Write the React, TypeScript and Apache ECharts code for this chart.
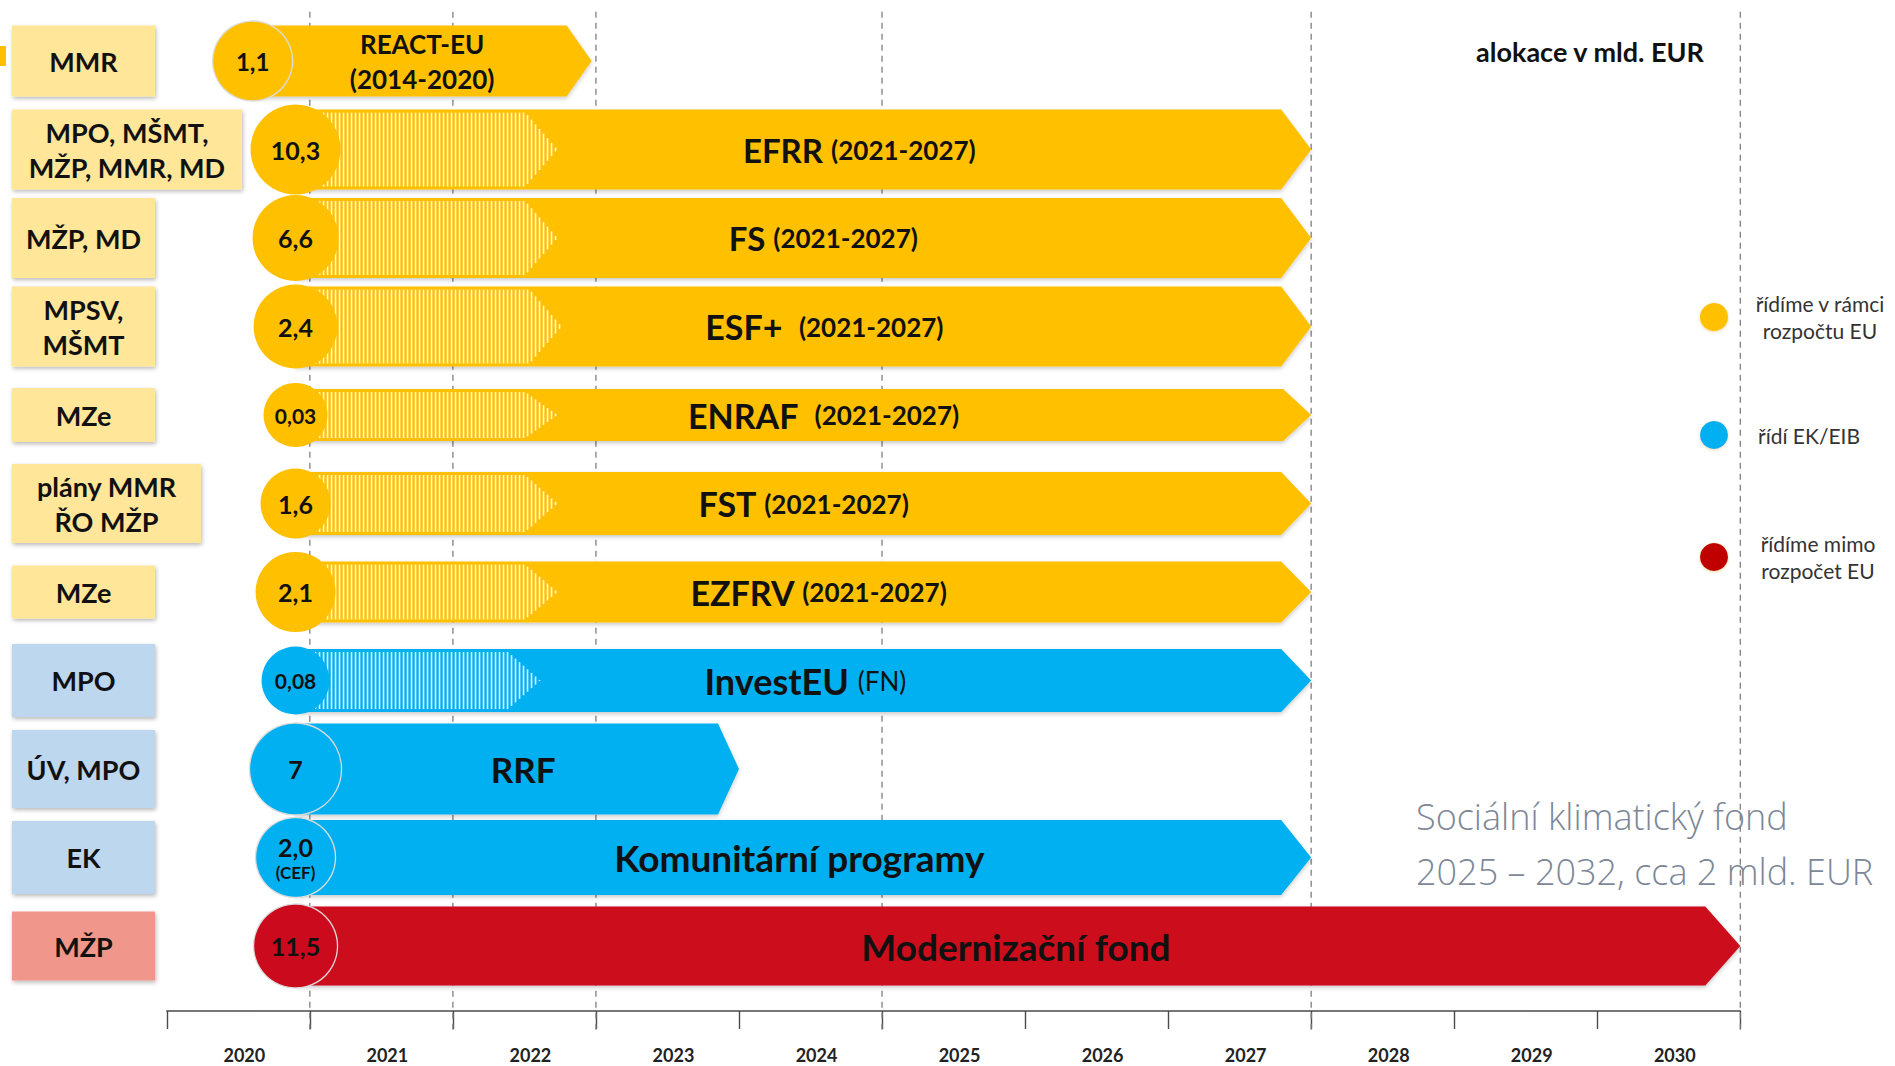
import React, { useEffect, useRef } from "react";
import * as echarts from "echarts";

// ---------- data ----------
const years = ["2020", "2021", "2022", "2023", "2024", "2025", "2026", "2027", "2028", "2029", "2030"];
const agencies = [
  "MMR",
  "MPO, MŠMT,\nMŽP, MMR, MD",
  "MŽP, MD",
  "MPSV,\nMŠMT",
  "MZe",
  "plány MMR\nŘO MŽP",
  "MZe",
  "MPO",
  "ÚV, MPO",
  "EK",
  "MŽP",
];
const programmes = [
  "REACT-EU", "EFRR", "FS", "ESF+", "ENRAF", "FST", "EZFRV", "InvestEU", "RRF",
  "Komunitární programy", "Modernizační fond",
];
const periods = [
  "(2014-2020)", "(2021-2027)", "(2021-2027)", "(2021-2027)", "(2021-2027)", "(2021-2027)",
  "(2021-2027)", "(FN)", "", "", "",
];
const allocations = ["1,1", "10,3", "6,6", "2,4", "0,03", "1,6", "2,1", "0,08", "7", "2,0", "11,5"];
const allocationNotes = ["", "", "", "", "", "", "", "", "", "(CEF)", ""];
const management = ["eu", "eu", "eu", "eu", "eu", "eu", "eu", "ek", "ek", "ek", "out"];
const startYear = [2020.6, 2020.9, 2020.9, 2020.9, 2020.9, 2020.9, 2020.9, 2020.9, 2020.9, 2020.9, 2020.9];
const endYear = [2022.97, 2028, 2028, 2028, 2028, 2028, 2028, 2028, 2024, 2028, 2031];
const phaseInEnd = [null, 2022.73, 2022.73, 2022.76, 2022.73, 2022.73, 2022.73, 2022.61, null, null, null];
const milestoneYears = [2021, 2022, 2023, 2025, 2028, 2031];
const legendKeys = ["eu", "ek", "out"];
const legendLabels = ["řídíme v rámci\nrozpočtu EU", "řídí EK/EIB", "řídíme mimo\nrozpočet EU"];
const unitNote = "alokace v mld. EUR";
const sideNote = "Sociální klimatický fond\n2025 – 2032, cca 2 mld. EUR";

// ---------- styles / layout ----------
const FONT = 'Lato, "Noto Sans", sans-serif';
const FILL: Record<string, string> = { eu: "#FFC000", ek: "#00B0F0", out: "#CC0A1E" };
const LEGEND_FILL: Record<string, string> = { eu: "#FFC000", ek: "#00B0F0", out: "#C00000" };
const BOX_FILL: Record<string, string> = { eu: "#FFE699", ek: "#BDD7EE", out: "#F0968A" };
const ROW_H = [71, 80, 80, 80, 52, 63, 61, 63, 91, 75, 79];
const CIRCLE_R = [40, 45, 43, 42, 32, 35, 40, 34, 46, 40, 42];
const CIRCLE_FONT = [24, 25, 25, 25, 21, 25, 25, 21, 25, 25, 25];
const NAME_FONT = [26, 33, 33, 34, 34, 34, 34, 36, 35, 37, 37];
const TIP_DEPTH = [25, 30, 30, 30, 28, 30, 30, 30, 21, 30, 35];
const BOX_W = [143, 230, 143, 143, 143, 189, 143, 143, 143, 143, 143];
const BOX_H = [71, 80, 80, 80, 54, 79, 53, 73, 78, 73, 69];
const LABEL_SHIFT = [0, 56, 20, 21, 20, 0, 15, 2, 6, -4, -2];
const LEGEND_Y = [317, 435, 557];
const LEGEND_TX = [1820, 1809, 1818];

export default function App() {
  const ref = useRef<HTMLDivElement>(null);

  useEffect(() => {
    if (!ref.current) return;
    const chart = echarts.init(ref.current, null, { renderer: "svg" });

    const rowData = programmes.map((_, i) => [startYear[i], i]);

    const renderRow = (params: any, api: any) => {
      const i = params.dataIndex;
      const key = management[i];
      const color = FILL[key];
      const p0 = api.coord([startYear[i], i]);
      const p1 = api.coord([endYear[i], i]);
      const x0 = p0[0];
      const yc = p0[1];
      const x1 = p1[0];
      const h = ROW_H[i];
      const top = yc - h / 2;
      const bot = yc + h / 2;
      const d = TIP_DEPTH[i];
      const children: any[] = [];

      // agency box
      children.push({
        type: "rect",
        shape: { x: 12, y: yc - BOX_H[i] / 2, width: BOX_W[i], height: BOX_H[i] },
        style: {
          fill: BOX_FILL[key],
          shadowBlur: 4,
          shadowColor: "rgba(0,0,0,0.28)",
          shadowOffsetX: 1,
          shadowOffsetY: 2,
        },
      });
      children.push({
        type: "text",
        style: {
          text: agencies[i],
          x: 12 + BOX_W[i] / 2,
          y: yc,
          align: "center",
          verticalAlign: "middle",
          fontFamily: FONT,
          fontWeight: "bold",
          fontSize: 27,
          lineHeight: 35,
          fill: "#111",
        },
      });

      // arrow
      children.push({
        type: "polygon",
        shape: {
          points: [
            [x0, top],
            [x1 - d, top],
            [x1, yc],
            [x1 - d, bot],
            [x0, bot],
          ],
        },
        style: {
          fill: color,
          shadowBlur: 4,
          shadowColor: "rgba(0,0,0,0.22)",
          shadowOffsetY: 2,
        },
      });

      // phase-in hatch
      const pe = phaseInEnd[i];
      if (pe != null) {
        const xh = api.coord([pe, i])[0];
        const hd = 32;
        const inset = 3;
        for (let x = x0; x < xh; x += 4) {
          let half = h / 2 - inset;
          if (x > xh - hd) half = half * ((xh - x) / hd);
          children.push({
            type: "line",
            shape: { x1: x, y1: yc - half, x2: x, y2: yc + half },
            style: { stroke: "rgba(255,255,255,0.88)", lineWidth: 1.6 },
          });
        }
      }

      // allocation circle
      children.push({
        type: "circle",
        shape: { cx: x0, cy: yc, r: CIRCLE_R[i] },
        style: {
          fill: color,
          stroke: pe == null ? "#dcdcdc" : null,
          lineWidth: 1.3,
        },
      });
      const note = allocationNotes[i];
      children.push({
        type: "text",
        style: {
          text: note ? `{v|${allocations[i]}}\n{n|${note}}` : allocations[i],
          x: x0,
          y: yc,
          align: "center",
          verticalAlign: "middle",
          fontFamily: FONT,
          fontWeight: "bold",
          fontSize: CIRCLE_FONT[i],
          fill: "#111",
          rich: {
            v: { fontFamily: FONT, fontWeight: "bold", fontSize: 25, lineHeight: 29, fill: "#111", align: "center" },
            n: { fontFamily: FONT, fontWeight: "bold", fontSize: 17, lineHeight: 22, fill: "#111", align: "center" },
          },
        },
      });

      // programme label
      const cx = (x0 + x1) / 2 + LABEL_SHIFT[i];
      const gap = i === 3 || i === 4 ? "  " : " ";
      let text: string;
      if (i === 0) {
        text = `{s|${programmes[i]}}\n{s|${periods[i]}}`;
      } else if (periods[i] === "(FN)") {
        text = `{a|${programmes[i]} }{c|${periods[i]}}`;
      } else if (periods[i]) {
        text = `{a|${programmes[i]}${gap}}{b|${periods[i]}}`;
      } else {
        text = `{a|${programmes[i]}}`;
      }
      children.push({
        type: "text",
        style: {
          text,
          x: cx,
          y: yc,
          align: "center",
          verticalAlign: "middle",
          fill: "#111",
          rich: {
            s: { fontFamily: FONT, fontWeight: "bold", fontSize: NAME_FONT[i], lineHeight: 35, fill: "#111", align: "center" },
            a: { fontFamily: FONT, fontWeight: "bold", fontSize: NAME_FONT[i], fill: "#111" },
            b: { fontFamily: FONT, fontWeight: "bold", fontSize: 26, fill: "#111" },
            c: { fontFamily: FONT, fontWeight: "normal", fontSize: 26, fill: "#111" },
          },
        },
      });

      return { type: "group", children };
    };

    const renderMilestone = (params: any, api: any) => {
      const x = api.coord([api.value(0), 0])[0];
      const cs = params.coordSys;
      return {
        type: "line",
        shape: { x1: x, y1: cs.y - 5, x2: x, y2: cs.y + cs.height + 43 },
        style: { stroke: "#7f7f7f", lineWidth: 1.3, lineDash: [6, 5] },
      };
    };

    const graphics: any[] = [
      { type: "rect", shape: { x: 0, y: 46, width: 6, height: 20 }, style: { fill: "#FFC000" } },
      {
        type: "text",
        style: {
          text: unitNote,
          x: 1590,
          y: 51,
          align: "center",
          verticalAlign: "middle",
          fontFamily: FONT,
          fontWeight: "bold",
          fontSize: 27,
          fill: "#111",
        },
      },
      {
        type: "text",
        z: 0,
        style: {
          text: sideNote,
          x: 1416,
          y: 844,
          align: "left",
          verticalAlign: "middle",
          fontFamily: '"Open Sans", "Noto Sans", sans-serif',
          fontWeight: 300,
          fontSize: 36,
          lineHeight: 55,
          fill: "#7D8797",
        },
      },
    ];
    legendKeys.forEach((k, j) => {
      graphics.push({
        type: "circle",
        shape: { cx: 1714, cy: LEGEND_Y[j], r: 14 },
        style: { fill: LEGEND_FILL[k], shadowBlur: 3, shadowColor: "rgba(200,150,0,0.35)", shadowOffsetY: 1 },
      });
      graphics.push({
        type: "text",
        style: {
          text: legendLabels[j],
          x: LEGEND_TX[j],
          y: LEGEND_Y[j],
          align: "center",
          verticalAlign: "middle",
          fontFamily: FONT,
          fontSize: 21,
          lineHeight: 27,
          fill: "#333",
        },
      });
    });

    chart.setOption({
      animation: false,
      backgroundColor: "#ffffff",
      grid: { left: 166.8, right: 154.7, top: 16.75, bottom: 75.75, containLabel: false },
      xAxis: [
        {
          type: "category",
          data: years,
          position: "bottom",
          offset: 20.75,
          boundaryGap: true,
          axisLine: { show: true, lineStyle: { color: "#4a4a4a", width: 1.6 } },
          axisTick: { show: true, length: 18, lineStyle: { color: "#4a4a4a", width: 1.4 } },
          axisLabel: {
            fontFamily: FONT,
            fontWeight: "bold",
            fontSize: 18,
            color: "#222",
            margin: 35,
            padding: [0, 0, 0, 12],
          },
          splitLine: { show: false },
        },
        { type: "value", min: 2020, max: 2031, show: false },
      ],
      yAxis: { type: "category", data: programmes, inverse: true, show: false },
      graphic: graphics,
      series: [
        {
          type: "custom",
          name: "milníky",
          xAxisIndex: 1,
          yAxisIndex: 0,
          z: 1,
          silent: true,
          data: milestoneYears.map((y) => [y]),
          encode: { x: 0 },
          renderItem: renderMilestone,
        },
        {
          type: "custom",
          name: "fondy",
          xAxisIndex: 1,
          yAxisIndex: 0,
          z: 2,
          data: rowData,
          encode: { x: 0, y: 1 },
          renderItem: renderRow,
        },
      ],
    });

    return () => chart.dispose();
  }, []);

  return (
    <div
      ref={ref}
      style={{ position: "fixed", left: 0, top: 0, width: 1895, height: 1066, background: "#fff" }}
    />
  );
}
